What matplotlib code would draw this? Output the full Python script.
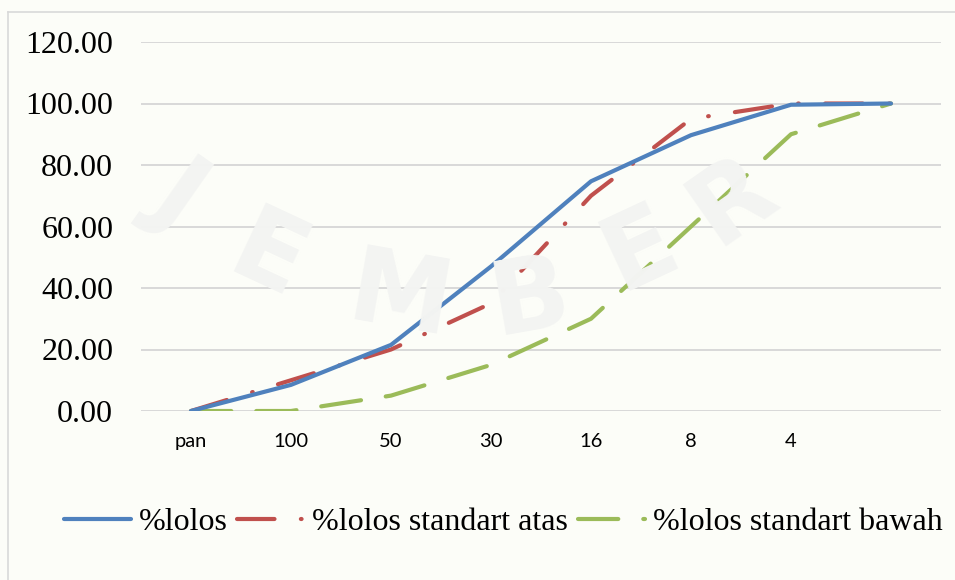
import matplotlib
matplotlib.use("Agg")
import matplotlib.pyplot as plt
from matplotlib.lines import Line2D

# sieve sizes and passing percentages
sieve = ["pan", "100", "50", "30", "16", "8", "4", ""]
lolos = [0, 8.5, 21.5, 47, 74.7, 89.7, 99.6, 100]
std_atas = [0, 10, 20, 35, 70, 95, 100, 100]
std_bawah = [0, 0, 5, 15, 30, 60, 90, 100]

plt.rcParams["lines.scale_dashes"] = False

bg = "#fcfdf8"
fig = plt.figure(figsize=(9.55, 5.8), dpi=100, facecolor=bg)
ax = fig.add_axes([141 / 955, 1 - 411 / 580, 800 / 955, 369 / 580])
ax.set_facecolor(bg)

# faint watermark letters behind the plot
wm = [("J", 180, 193, -35), ("E", 267, 260, -25), ("M", 400, 300, -10),
      ("B", 530, 300, 10), ("E", 640, 250, 25), ("R", 733, 200, 35)]
for ch, px, py, rot in wm:
    fig.text(px / 955, 1 - py / 580, ch, fontsize=74, fontweight="bold",
             family="DejaVu Sans", color="#f3f4f2", rotation=rot,
             ha="center", va="center", zorder=0)
ax.patch.set_alpha(0)

x = list(range(len(sieve)))
ax.plot(x, lolos, color="#4f81bd", lw=3.0, solid_capstyle="round",
        solid_joinstyle="round", label="%lolos", zorder=4)
ax.plot(x, std_atas, color="#c0504d", lw=3.0, linestyle=(0, (27, 19, 0.5, 19)),
        dash_capstyle="round", dash_joinstyle="round",
        label="%lolos standart atas", zorder=3)
ax.plot(x, std_bawah, color="#9bbb59", lw=3.0, linestyle=(0, (29, 18)),
        dash_capstyle="round", dash_joinstyle="round",
        label="%lolos standart bawah", zorder=3)

ax.set_xlim(-0.5, 7.5)
ax.set_ylim(0, 120)
ax.set_yticks([0, 20, 40, 60, 80, 100, 120])
ax.set_yticklabels(["%.2f" % v for v in [0, 20, 40, 60, 80, 100, 120]],
                   family="Liberation Serif", fontsize=23)
ax.set_xticks(x)
ax.set_xticklabels(sieve, family="Lato", fontsize=14.5)
ax.tick_params(axis="y", length=0, pad=20)
ax.tick_params(axis="x", length=0, pad=16)
ax.grid(axis="y", color="#d9d9d9", lw=1.4, zorder=1)
ax.set_axisbelow(True)
for s in ax.spines.values():
    s.set_visible(False)

leg = fig.legend(loc="center", bbox_to_anchor=(503 / 955, 1 - 522 / 580),
                 ncol=3, frameon=False, handlelength=2.1, handletextpad=0.25,
                 columnspacing=0.3, prop={"family": "Liberation Serif", "size": 23})

# chart frame
fig.add_artist(Line2D([8 / 955, 1], [1 - 12 / 580] * 2, color="#d9d9d9", lw=1.2))
fig.add_artist(Line2D([8 / 955] * 2, [0, 1 - 12 / 580], color="#d9d9d9", lw=1.2))

fig.savefig("out.png", dpi=100, facecolor=bg)
